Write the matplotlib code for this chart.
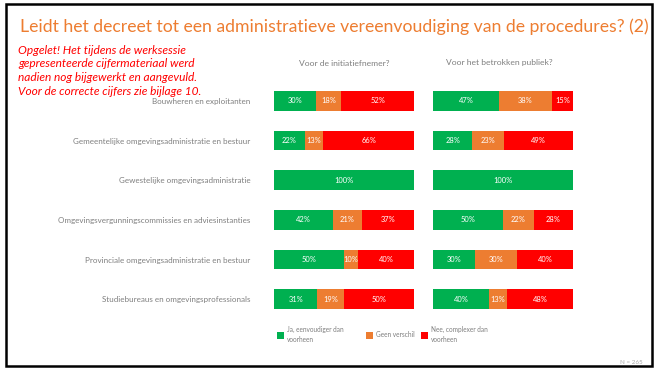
import matplotlib
matplotlib.use("Agg")
import matplotlib.pyplot as plt
from matplotlib.patches import Rectangle

plt.rcParams['font.family'] = ['Lato', 'DejaVu Sans']

categories = [
    "Bouwheren en exploitanten",
    "Gemeentelijke omgevingsadministratie en bestuur",
    "Gewestelijke omgevingsadministratie",
    "Omgevingsvergunningscommissies en adviesinstanties",
    "Provinciale omgevingsadministratie en bestuur",
    "Studiebureaus en omgevingsprofessionals",
]
series = ["Ja, eenvoudiger dan\nvoorheen", "Geen verschil", "Nee, complexer dan\nvoorheen"]
colors = ["#00B050", "#ED7D31", "#FF0000"]

# per category: [ja, geen verschil, nee]
initiatiefnemer = [
    [30, 18, 52],
    [22, 13, 66],
    [100, 0, 0],
    [42, 21, 37],
    [50, 10, 40],
    [31, 19, 50],
]
publiek = [
    [47, 38, 15],
    [28, 23, 49],
    [100, 0, 0],
    [50, 22, 28],
    [30, 30, 40],
    [40, 13, 48],
]
panel_titles = ["Voor de initiatiefnemer?", "Voor het betrokken publiek?"]

W, H = 656, 369
fig = plt.figure(figsize=(W / 100, H / 100), dpi=100)


def fx(px):
    return px / W


def fy(py):
    return 1 - py / H


# slide border
fig.patches.append(Rectangle((fx(6), fy(366)), fx(646), 362 / H, transform=fig.transFigure,
                             fill=False, edgecolor="black", linewidth=1.8))

fig.text(fx(20), fy(27), "Leidt het decreet tot een administratieve vereenvoudiging van de procedures? (2)",
         color="#ED7D31", fontsize=12.7, va="center", ha="left")

note = ["Opgelet! Het tijdens de werksessie",
        "gepresenteerde cijfermateriaal werd",
        "nadien nog bijgewerkt en aangevuld.",
        "Voor de correcte cijfers zie bijlage 10."]
for i, line in enumerate(note):
    fig.text(fx(18), fy(50 + 13.8 * i), line, color="#FF0000", fontsize=8.6,
             style="italic", va="center", ha="left")

top, bottom = 81, 319
panels = [(274, initiatiefnemer), (433, publiek)]
for k, (x0, data) in enumerate(panels):
    ax = fig.add_axes([fx(x0), fy(bottom), fx(140), (bottom - top) / H])
    ypos = list(range(len(categories)))
    left = [0] * len(categories)
    for j in range(3):
        vals = [row[j] for row in data]
        ax.barh(ypos, vals, left=left, height=0.5, color=colors[j], edgecolor="none")
        for y, l, v in zip(ypos, left, vals):
            if v > 0:
                ax.text(l + v / 2, y, f"{v}%", color="white", fontsize=5.4,
                        ha="center", va="center")
        left = [a + b for a, b in zip(left, vals)]
    ax.set_xlim(0, 100)
    ax.set_ylim(len(categories) - 0.5, -0.5)
    for s in ax.spines.values():
        s.set_visible(False)
    ax.set_xticks([])
    if k == 0:
        ax.set_yticks(ypos)
        ax.set_yticklabels(categories, fontsize=5.8, color="#7F7F7F")
        ax.tick_params(axis="y", length=0, pad=17)
    else:
        ax.set_yticks([])

fig.text(fx(344), fy(63), panel_titles[0], color="#7F7F7F", fontsize=6.1, ha="center", va="center")
fig.text(fx(499), fy(63), panel_titles[1], color="#7F7F7F", fontsize=6.1, ha="center", va="center")

# legend
leg = [(277, series[0]), (366, series[1]), (421, series[2])]
for (x, label), c in zip(leg, colors):
    fig.patches.append(Rectangle((fx(x), fy(339)), fx(7), 7 / H, transform=fig.transFigure,
                                 facecolor=c, edgecolor="none"))
    fig.text(fx(x + 10), fy(334.5), label, color="#7F7F7F", fontsize=4.7,
             ha="left", va="center", linespacing=1.5)

fig.text(fx(643), fy(362), "N = 265", color="#A6A6A6", fontsize=4.5, ha="right", va="center")

fig.savefig("out.png", dpi=100)
